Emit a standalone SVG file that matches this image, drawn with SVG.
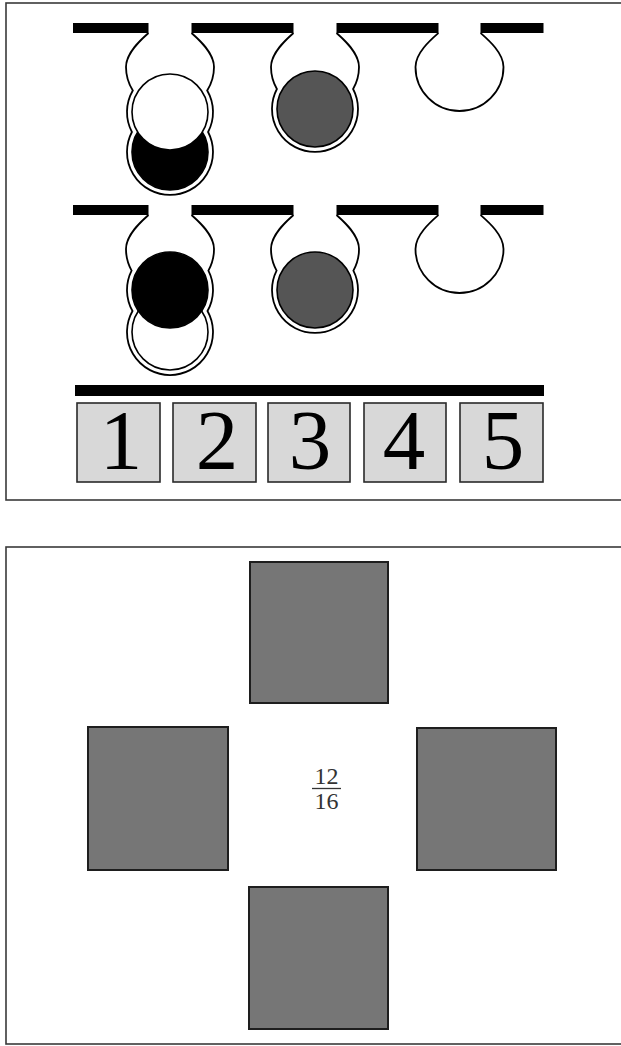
<svg xmlns="http://www.w3.org/2000/svg" width="621" height="1046" viewBox="0 0 621 1046">
<style>
.panel{fill:#fff;stroke:#3a3a3a;stroke-width:1.6}
.bar{fill:#000}
.wall{fill:#fff;stroke:#000;stroke-width:1.8}
.ball{stroke:#000;stroke-width:1.6}
.white{fill:#fff}
.black{fill:#000}
.grey{fill:#555}
.box{fill:#d8d8d8;stroke:#2a2a2a;stroke-width:1.6}
.digit{font-family:"Liberation Serif","Times New Roman",serif;font-size:85px;fill:#000;text-anchor:middle}
.sq{fill:#767676;stroke:#1e1e1e;stroke-width:2}
.frac{font-family:"Liberation Serif","Times New Roman",serif;font-size:24px;fill:#333;text-anchor:middle}
</style>
<rect width="621" height="1046" fill="#fff"/>
<g id="panel-top">
<rect class="panel" x="6" y="3" width="620" height="497"/>
</g>
<g id="panel-bottom">
<rect class="panel" x="6" y="547" width="620" height="497"/>
</g>

<g id="row1">
<g id="r1-cavity1">
<path class="wall" d="M148.5,33 C140.5,40 126,53 126,67 A44,44 0 0 0 132.8,90.5 A43,43 0 0 0 131.9,132 A43,43 0 1 0 208.1,132 A43,43 0 0 0 207.2,90.5 A44,44 0 0 0 214,67 C214,53 199.5,40 191.5,33"/>
<circle class="ball black" cx="170" cy="152" r="38"/>
<circle class="ball white" cx="170" cy="112" r="38"/>
</g>
<g id="r1-cavity2">
<path class="wall" d="M293.5,33 C285.5,40 271,53 271,67 A44,44 0 0 0 276.9,89 A43,43 0 1 0 353.1,89 A44,44 0 0 0 359,67 C359,53 344.5,40 336.5,33"/>
<circle class="ball grey" cx="315" cy="109" r="38"/>
</g>
<g id="r1-cavity3">
<path class="wall" d="M438.5,33 C430.5,40 415.5,53 415.5,67 A44,44 0 0 0 503.5,67 C503.5,53 488.5,40 480.5,33"/>
</g>
<g id="r1-bars">
<rect class="bar" x="73" y="23" width="75.5" height="10"/>
<rect class="bar" x="191.5" y="23" width="102" height="10"/>
<rect class="bar" x="336.5" y="23" width="102" height="10"/>
<rect class="bar" x="480.5" y="23" width="63" height="10"/>
</g>
</g>

<g id="row2">
<g id="r2-cavity1">
<path class="wall" d="M148.5,215 C140.5,222 126,235 126,249 A44,44 0 0 0 131.6,270.6 A43,43 0 0 0 132.5,311 A43,43 0 1 0 207.5,311 A43,43 0 0 0 208.4,270.6 A44,44 0 0 0 214,249 C214,235 199.5,222 191.5,215"/>
<circle class="ball white" cx="170" cy="332" r="38"/>
<circle class="ball black" cx="170" cy="290" r="38"/>
</g>
<g id="r2-cavity2">
<path class="wall" d="M293.5,215 C285.5,222 271,235 271,249 A44,44 0 0 0 276.6,270.6 A43,43 0 1 0 353.4,270.6 A44,44 0 0 0 359,249 C359,235 344.5,222 336.5,215"/>
<circle class="ball grey" cx="315" cy="290" r="38"/>
</g>
<g id="r2-cavity3">
<path class="wall" d="M438.5,215 C430.5,222 415.5,235 415.5,249 A44,44 0 0 0 503.5,249 C503.5,235 488.5,222 480.5,215"/>
</g>
<g id="r2-bars">
<rect class="bar" x="73" y="205" width="75.5" height="10"/>
<rect class="bar" x="191.5" y="205" width="102" height="10"/>
<rect class="bar" x="336.5" y="205" width="102" height="10"/>
<rect class="bar" x="480.5" y="205" width="63" height="10"/>
</g>
</g>

<g id="number-row">
<rect class="bar" x="75" y="385" width="469" height="11"/>
<g id="box1"><rect class="box" x="77" y="403" width="83" height="79"/><text class="digit" x="121" y="469">1</text></g>
<g id="box2"><rect class="box" x="173" y="403" width="83" height="79"/><text class="digit" x="217" y="469">2</text></g>
<g id="box3"><rect class="box" x="268" y="403" width="82" height="79"/><text class="digit" x="310" y="469">3</text></g>
<g id="box4"><rect class="box" x="364" y="403" width="82" height="79"/><text class="digit" x="404" y="469">4</text></g>
<g id="box5"><rect class="box" x="460" y="403" width="83" height="79"/><text class="digit" x="503" y="469">5</text></g>
</g>

<g id="squares">
<rect id="sq-top" class="sq" x="250" y="562" width="138" height="141"/>
<rect id="sq-left" class="sq" x="88" y="727" width="140" height="143"/>
<rect id="sq-right" class="sq" x="417" y="728" width="139" height="142"/>
<rect id="sq-bottom" class="sq" x="249" y="887" width="139" height="142"/>
</g>
<g id="fraction">
<text class="frac" x="326.5" y="784">12</text>
<line x1="312" y1="788.5" x2="341" y2="788.5" stroke="#333" stroke-width="1.3"/>
<text class="frac" x="326.5" y="809">16</text>
</g>
</svg>
